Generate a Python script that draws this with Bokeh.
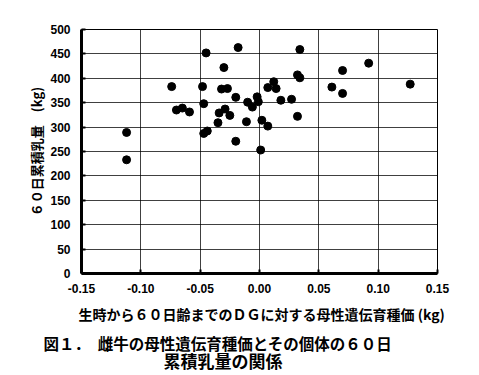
from bokeh.plotting import figure
from bokeh.models import Title, FixedTicker, PrintfTickFormatter, Range1d
from bokeh.embed import file_html
from bokeh.resources import INLINE

# Maternal genetic breeding value for DG (kg)
bv = [-0.112, -0.112, -0.074, -0.070, -0.065, -0.059, -0.048, -0.047, -0.045, -0.047,
      -0.044, -0.030, -0.032, -0.027, -0.029, -0.034, -0.025, -0.035, -0.018, -0.020,
      -0.020, -0.010, -0.006, -0.002, -0.001, -0.011, 0.002, 0.007, 0.001, 0.007,
      0.012, 0.014, 0.018, 0.027, 0.032, 0.034, 0.034, 0.032, 0.061, 0.070,
      0.070, 0.092, 0.127]
# 60-day cumulative milk yield (kg)
milk = [289, 233, 383, 335, 339, 331, 383, 348, 452, 287,
        292, 422, 378, 379, 337, 329, 324, 309, 463, 361,
        271, 351, 341, 362, 352, 311, 314, 302, 253, 381,
        393, 379, 355, 357, 407, 401, 459, 322, 382, 369,
        416, 431, 388]

x_ticks = [-0.15, -0.10, -0.05, 0.00, 0.05, 0.10, 0.15]
y_ticks = [0, 50, 100, 150, 200, 250, 300, 350, 400, 450, 500]

x_title = "生時から６０日齢までのＤＧに対する母性遺伝育種価 (kg)"
y_title = "６０日累積乳量　(kg)"
cap_1 = "図１．　雌牛の母性遺伝育種価とその個体の６０日"
cap_2 = "累積乳量の関係"

jp = "Noto Sans CJK JP"
W, H = 471, 375
p = figure(width=W, height=H, output_backend="svg", toolbar_location=None,
           x_range=Range1d(-0.15, 0.15), y_range=Range1d(0, 500),
           min_border_left=81, min_border_right=34, min_border_top=29, min_border_bottom=102)
p.background_fill_color = "white"
p.border_fill_color = "white"
p.outline_line_color = "black"
p.outline_line_width = 1

for ax in (p.xaxis[0], p.yaxis[0]):
    ax.axis_line_width = 3
    ax.axis_line_color = "black"
    ax.major_tick_out = 0
    ax.major_tick_in = 4
    ax.major_tick_line_width = 2
    ax.minor_tick_line_color = None
    ax.major_label_text_font = "Liberation Sans"
    ax.major_label_text_font_style = "bold"
    ax.major_label_text_font_size = "12px"
    ax.major_label_text_color = "black"
    ax.axis_label_text_font = jp
    ax.axis_label_text_font_style = "bold"
    ax.axis_label_text_color = "black"

p.xaxis.ticker = FixedTicker(ticks=x_ticks)
p.yaxis.ticker = FixedTicker(ticks=y_ticks)
p.xaxis.formatter = PrintfTickFormatter(format="%.2f")
p.xaxis.major_label_standoff = 10
p.yaxis.major_label_standoff = 11

p.yaxis.axis_label = y_title
p.yaxis.axis_label_text_font_size = "13px"
p.yaxis.axis_label_standoff = 1

p.xgrid.grid_line_color = "black"
p.ygrid.grid_line_color = "black"
p.xgrid.grid_line_alpha = 0.75
p.ygrid.grid_line_alpha = 0.75
p.xgrid.grid_line_width = 1
p.ygrid.grid_line_width = 1

p.scatter(bv, milk, size=8, color="black", marker="circle")

t0 = Title(text=x_title, align="left", offset=-3, standoff=16, vertical_align="top",
           text_font=jp, text_font_style="bold", text_font_size="14px", text_color="black")
t1 = Title(text=cap_1, align="left", offset=-38, standoff=-4, vertical_align="top",
           text_font=jp, text_font_style="bold", text_font_size="15.5px", text_color="black")
t2 = Title(text=cap_2, align="left", offset=82, standoff=-11, vertical_align="top",
           text_font=jp, text_font_style="bold", text_font_size="17px", text_color="black")
p.add_layout(t0, "below")
p.add_layout(t1, "below")
p.add_layout(t2, "below")

open("out.html", "w").write(file_html(p, INLINE))
